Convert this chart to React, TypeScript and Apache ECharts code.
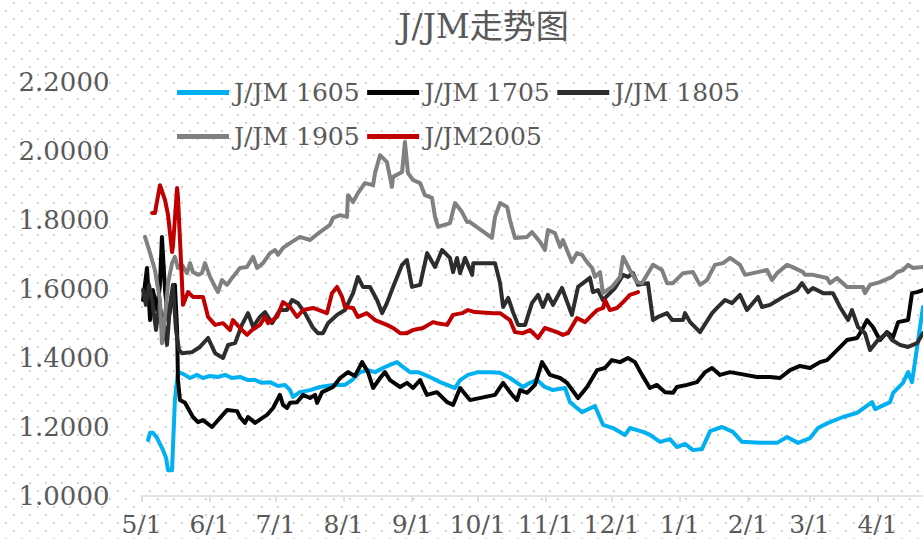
import React, { useEffect, useRef } from "react";
import * as echarts from "echarts";

// x = days since 5/1, y = J/JM ratio
const monthTicks = [0, 31, 61, 92, 123, 153, 184, 214, 245, 276, 304, 335];
const monthLabels = ["5/1", "6/1", "7/1", "8/1", "9/1", "10/1", "11/1", "12/1", "1/1", "2/1", "3/1", "4/1"];
const yTicks = [1.0, 1.2, 1.4, 1.6, 1.8, 2.0, 2.2];
const lastDay = 355.7;

const titleText = "J/JM走势图";
const seriesNames = ["J/JM 1605", "J/JM 1705", "J/JM 1805", "J/JM 1905", "J/JM2005"];
const seriesColors = ["#00b0f0", "#050505", "#2d2d2d", "#808080", "#c00000"];

const days1605 = [3, 3.9, 5.2, 7.1, 9.8, 11.2, 12.1, 13.9, 15.2, 16.6, 18.9, 22.1, 25.3, 28, 31.2, 34.8, 38, 41.2, 44.8, 48.5, 51.7, 54.8, 58.5, 62.1, 65.3, 67.6, 69, 72.1, 76.7, 81.2, 87.2, 92.6, 95.8, 99.5, 103.1, 106.3, 109.9, 113.1, 116.3, 119, 122.2, 125.9, 129, 132.2, 135.9, 139.1, 142.7, 145, 148.6, 153.2, 158.6, 163.2, 167.7, 173.6, 176.8, 180, 183.6, 187.3, 192.8, 195, 198.2, 200.5, 206.4, 210.1, 214.6, 220.1, 222.3, 228.3, 231.4, 236, 240.5, 243.7, 247.4, 251, 255.1, 258.8, 264.2, 269.2, 273.3, 281.5, 289.3, 293.8, 298.8, 304.3, 307.9, 312.5, 319.3, 325.7, 332.5, 333.9, 340.7, 342.1, 346.6, 348.9, 350.7, 353.5, 355.7];
const vals1605 = [1.162, 1.183, 1.183, 1.168, 1.133, 1.11, 1.075, 1.075, 1.278, 1.359, 1.354, 1.342, 1.351, 1.342, 1.348, 1.345, 1.351, 1.342, 1.345, 1.336, 1.336, 1.328, 1.33, 1.319, 1.322, 1.307, 1.287, 1.301, 1.307, 1.316, 1.322, 1.322, 1.336, 1.359, 1.365, 1.359, 1.371, 1.38, 1.388, 1.374, 1.359, 1.359, 1.351, 1.342, 1.33, 1.322, 1.313, 1.336, 1.351, 1.359, 1.359, 1.357, 1.342, 1.316, 1.328, 1.336, 1.316, 1.307, 1.313, 1.272, 1.255, 1.243, 1.261, 1.206, 1.197, 1.177, 1.197, 1.186, 1.177, 1.157, 1.165, 1.142, 1.151, 1.133, 1.136, 1.188, 1.2, 1.186, 1.157, 1.154, 1.154, 1.171, 1.154, 1.168, 1.197, 1.212, 1.229, 1.241, 1.272, 1.252, 1.272, 1.299, 1.328, 1.359, 1.33, 1.452, 1.548];

const days1705 = [0.7, 2.5, 3.9, 5.2, 7.1, 8.4, 9.3, 10.7, 12.1, 13.9, 15.2, 16.2, 16.6, 17.5, 19.8, 23.4, 25.7, 28, 32.1, 35.7, 38.9, 43.5, 44.8, 47.1, 48.5, 51.7, 57.1, 59.9, 63, 64.4, 66.2, 67.6, 70.8, 73.5, 76.7, 79, 79.9, 82.2, 87.2, 90.4, 94, 97.2, 100.4, 103.1, 105.4, 108.6, 110.8, 113.1, 117.7, 120.8, 123.6, 126.8, 129.9, 134.5, 139.1, 141.8, 145, 149.5, 160.9, 164.6, 168.7, 170.9, 172.3, 175.5, 179.1, 182.3, 185.9, 190.5, 193.7, 198.7, 202.8, 207.4, 210.9, 214.1, 217.8, 221.4, 224.6, 227.8, 231.4, 234.6, 238.3, 241.9, 243.7, 248.3, 252.8, 256.5, 259.7, 263.3, 267.9, 272.4, 280.1, 286.1, 290.6, 295.2, 299.7, 304.3, 308.8, 312, 316.6, 321.1, 325.7, 327.9, 330.2, 332.9, 336.1, 339.3, 342.1, 344.4, 348.9, 350.7, 353, 355.7];
const vals1705 = [1.568, 1.661, 1.51, 1.597, 1.539, 1.612, 1.751, 1.597, 1.51, 1.568, 1.612, 1.481, 1.336, 1.278, 1.27, 1.229, 1.214, 1.22, 1.2, 1.226, 1.249, 1.246, 1.229, 1.212, 1.229, 1.212, 1.235, 1.255, 1.293, 1.264, 1.255, 1.27, 1.272, 1.293, 1.284, 1.293, 1.27, 1.301, 1.316, 1.342, 1.359, 1.348, 1.388, 1.359, 1.313, 1.342, 1.359, 1.336, 1.316, 1.328, 1.313, 1.336, 1.293, 1.301, 1.272, 1.264, 1.313, 1.278, 1.293, 1.328, 1.293, 1.278, 1.307, 1.299, 1.322, 1.388, 1.351, 1.342, 1.328, 1.284, 1.316, 1.365, 1.371, 1.394, 1.388, 1.4, 1.388, 1.351, 1.313, 1.322, 1.301, 1.299, 1.316, 1.322, 1.33, 1.359, 1.371, 1.351, 1.359, 1.354, 1.345, 1.345, 1.342, 1.365, 1.377, 1.371, 1.388, 1.394, 1.423, 1.452, 1.458, 1.481, 1.51, 1.49, 1.452, 1.475, 1.461, 1.504, 1.51, 1.588, 1.591, 1.597];

const days1805 = [0.7, 2, 3.4, 4.8, 6.6, 8, 9.8, 11.6, 13, 14.3, 15.7, 17.1, 18.4, 23, 26.6, 30.3, 33.5, 37.1, 39.4, 42.6, 45.7, 48.5, 50.8, 53.9, 56.2, 59.4, 63, 66.2, 68.5, 71.2, 74.4, 78.1, 80.3, 82.6, 84.9, 89, 92.6, 96.3, 98.5, 100.8, 104, 107.2, 109.5, 111.7, 114.5, 118.6, 120.8, 123.1, 126.8, 130, 133.6, 136.8, 140.4, 141.8, 143.6, 145, 147.3, 150.5, 151, 160.9, 163.2, 164.6, 166.9, 169.1, 171.4, 174.6, 177.7, 180.5, 182.7, 185, 187.3, 191.4, 195.9, 198.7, 204.1, 205.5, 207.8, 210, 215.5, 219.2, 221.4, 223.7, 226, 230.5, 232.8, 235.1, 239.2, 241.5, 246.5, 247.4, 249.7, 254.2, 259.7, 262.4, 265.6, 268.8, 272.4, 275.6, 280.6, 282.4, 286.1, 292, 298.3, 300.6, 303.4, 305.6, 310.2, 314.7, 317.9, 321.6, 323.4, 326.1, 329.3, 331.6, 335.2, 339.3, 341.6, 345.2, 348.9, 353, 355.7];
const vals1805 = [1.597, 1.554, 1.612, 1.568, 1.481, 1.554, 1.516, 1.438, 1.554, 1.612, 1.481, 1.423, 1.414, 1.417, 1.432, 1.458, 1.414, 1.4, 1.438, 1.443, 1.496, 1.53, 1.49, 1.519, 1.533, 1.501, 1.539, 1.539, 1.568, 1.559, 1.53, 1.487, 1.472, 1.472, 1.501, 1.525, 1.539, 1.588, 1.635, 1.606, 1.606, 1.568, 1.53, 1.559, 1.606, 1.67, 1.684, 1.606, 1.612, 1.704, 1.664, 1.713, 1.69, 1.649, 1.69, 1.646, 1.69, 1.641, 1.675, 1.675, 1.617, 1.548, 1.574, 1.533, 1.496, 1.496, 1.559, 1.583, 1.548, 1.583, 1.554, 1.603, 1.525, 1.606, 1.632, 1.591, 1.597, 1.568, 1.603, 1.641, 1.635, 1.646, 1.612, 1.617, 1.51, 1.519, 1.53, 1.51, 1.51, 1.53, 1.504, 1.475, 1.53, 1.548, 1.568, 1.559, 1.583, 1.539, 1.577, 1.548, 1.554, 1.577, 1.597, 1.617, 1.591, 1.603, 1.588, 1.588, 1.548, 1.51, 1.539, 1.49, 1.472, 1.423, 1.452, 1.472, 1.452, 1.438, 1.432, 1.443, 1.472];

const days1905 = [1.6, 3.9, 6.1, 8.4, 9.3, 10.7, 12.1, 13.9, 15.2, 16.6, 18.4, 20.7, 22.1, 23.4, 25.7, 27.5, 28.9, 31.2, 33.5, 34.8, 36.6, 38.9, 41.6, 44.8, 48, 50.8, 52.6, 55.3, 58.5, 60.8, 62.1, 64.4, 67.6, 72.1, 76.7, 81.2, 85.8, 87.2, 90.4, 93.5, 94, 96.3, 98.5, 101.7, 105.4, 106.3, 108.6, 111.7, 114, 114.5, 118.6, 119.9, 121.3, 123.6, 126.8, 129, 132.2, 133.6, 135, 140.4, 142.7, 145.9, 148.2, 149.5, 159.5, 160.9, 163.2, 166.4, 167.7, 170, 175.5, 177.7, 181.4, 183.6, 185, 188.2, 190.5, 191.8, 195.9, 198.2, 200.5, 202.8, 205.1, 206.4, 208.7, 210, 214.1, 217.8, 219.2, 222.3, 225.5, 227.8, 232.8, 236.9, 239.2, 241.9, 246.5, 251, 254.2, 257.4, 261, 264.7, 267.9, 272.4, 274.7, 284.7, 287, 289.3, 293.8, 296.1, 301.1, 302, 305.6, 312, 313.4, 316.6, 321.1, 328.4, 329.3, 331.6, 336.1, 341.6, 343.9, 346.6, 348.9, 351.2, 355.7];
const vals1905 = [1.751, 1.704, 1.655, 1.568, 1.443, 1.519, 1.617, 1.675, 1.693, 1.661, 1.67, 1.646, 1.675, 1.649, 1.641, 1.646, 1.675, 1.635, 1.606, 1.591, 1.626, 1.612, 1.635, 1.661, 1.664, 1.693, 1.661, 1.675, 1.704, 1.713, 1.699, 1.719, 1.733, 1.751, 1.742, 1.765, 1.786, 1.806, 1.814, 1.809, 1.872, 1.852, 1.878, 1.907, 1.901, 1.936, 1.988, 1.968, 1.896, 1.925, 1.939, 2.026, 1.936, 1.916, 1.907, 1.872, 1.864, 1.809, 1.78, 1.791, 1.849, 1.823, 1.794, 1.794, 1.748, 1.809, 1.849, 1.838, 1.8, 1.748, 1.751, 1.765, 1.736, 1.713, 1.771, 1.762, 1.722, 1.742, 1.678, 1.704, 1.699, 1.678, 1.661, 1.635, 1.649, 1.588, 1.606, 1.635, 1.693, 1.655, 1.62, 1.617, 1.67, 1.655, 1.617, 1.617, 1.646, 1.649, 1.612, 1.626, 1.67, 1.675, 1.69, 1.67, 1.641, 1.655, 1.626, 1.646, 1.67, 1.664, 1.649, 1.641, 1.641, 1.632, 1.617, 1.632, 1.606, 1.606, 1.588, 1.612, 1.62, 1.635, 1.649, 1.655, 1.67, 1.661, 1.664];

const days2005 = [4.8, 6.1, 8.4, 10.7, 12.1, 13.9, 14.3, 16.2, 16.6, 18.9, 21.2, 23.4, 28, 30.3, 33.5, 37.1, 40.3, 41.6, 44.8, 48, 50.3, 53.9, 56.2, 57.6, 61.7, 64.4, 67.6, 70.8, 73.5, 78.1, 84.4, 86.7, 89, 91.3, 92.6, 96.3, 98.5, 102.6, 106.3, 111.7, 114.5, 117.7, 120.8, 123.6, 128.1, 132.7, 134.5, 139.1, 141.8, 145.9, 148.6, 151.8, 160, 163.2, 167.7, 170, 173.6, 176.8, 180.5, 183.6, 189.1, 191.8, 194.1, 198.2, 201.9, 205.1, 207.4, 210.1, 211, 213.2, 216.4, 219.2, 222.3, 226];
const vals2005 = [1.82, 1.82, 1.901, 1.858, 1.814, 1.707, 1.722, 1.893, 1.867, 1.554, 1.591, 1.577, 1.577, 1.519, 1.496, 1.501, 1.481, 1.51, 1.487, 1.467, 1.481, 1.496, 1.519, 1.501, 1.519, 1.562, 1.548, 1.519, 1.539, 1.545, 1.53, 1.588, 1.606, 1.577, 1.548, 1.545, 1.519, 1.53, 1.51, 1.496, 1.487, 1.472, 1.472, 1.481, 1.487, 1.504, 1.501, 1.496, 1.525, 1.53, 1.539, 1.533, 1.53, 1.53, 1.51, 1.475, 1.472, 1.481, 1.458, 1.487, 1.475, 1.467, 1.472, 1.516, 1.504, 1.525, 1.539, 1.545, 1.568, 1.539, 1.545, 1.562, 1.583, 1.591];

const allDays = [days1605, days1705, days1805, days1905, days2005];
const allVals = [vals1605, vals1705, vals1805, vals1905, vals2005];

const FONT = "'DejaVu Serif', serif";
const TXT = "#595959";

const dotsBg =
  "url(\"data:image/svg+xml;utf8,<svg xmlns='http://www.w3.org/2000/svg' width='16' height='16'><rect x='5' y='10' width='2' height='2' fill='%23d3d3d3'/><rect x='13' y='2' width='2' height='2' fill='%23d3d3d3'/></svg>\")";

export default function App() {
  const ref = useRef<HTMLDivElement>(null);
  useEffect(() => {
    if (!ref.current) return;
    const chart = echarts.init(ref.current, null, { renderer: "svg" });
    const legendCommon = {
      left: 177,
      padding: 0,
      icon: "rect",
      itemWidth: 52,
      itemHeight: 5,
      itemGap: 7.5,
      formatter: (name: string) => `{t|${name}}`,
      textStyle: {
        fontFamily: FONT,
        fontSize: 25,
        color: TXT,
        rich: {
          t: { width: 146, fontFamily: FONT, fontSize: 25, color: TXT },
        },
      },
    };
    chart.setOption({
      animation: false,
      graphic: [
        {
          type: "text",
          x: 483.5,
          y: 26,
          style: {
            text: titleText,
            align: "center",
            verticalAlign: "middle",
            fontFamily: "'DejaVu Serif', 'Noto Sans CJK SC', serif",
            fontSize: 33,
            fill: TXT,
          },
        },
      ],
      legend: [
        { ...legendCommon, data: seriesNames.slice(0, 3), top: 80 },
        { ...legendCommon, data: seriesNames.slice(3), top: 124 },
      ],
      grid: {
        left: 141.5,
        right: 0,
        top: 82,
        bottom: 43,
        containLabel: false,
        outerBoundsMode: "none",
      },
      xAxis: {
        type: "value",
        min: 0,
        max: lastDay,
        splitLine: { show: false },
        axisLine: { show: true, lineStyle: { color: "#d9d9d9", width: 1.5 } },
        axisTick: {
          show: true,
          length: 6,
          inside: false,
          customValues: monthTicks,
          lineStyle: { color: "#d9d9d9", width: 1.5 },
        },
        axisLabel: {
          customValues: monthTicks,
          formatter: (v: number) => monthLabels[monthTicks.indexOf(Math.round(v))] ?? "",
          fontFamily: FONT,
          fontSize: 25,
          lineHeight: 25,
          color: TXT,
          margin: 16,
          hideOverlap: false,
        },
      },
      yAxis: {
        type: "value",
        min: yTicks[0],
        max: yTicks[yTicks.length - 1],
        interval: 0.2,
        splitLine: { show: false },
        axisLine: { show: false },
        axisTick: { show: false },
        axisLabel: {
          formatter: (v: number) => v.toFixed(4),
          fontFamily: FONT,
          fontSize: 26,
          color: TXT,
          margin: 32,
        },
      },
      series: seriesNames.map((name, i) => ({
        name,
        type: "line",
        showSymbol: false,
        symbol: "none",
        color: seriesColors[i],
        lineStyle: { width: 4, color: seriesColors[i], join: "round", cap: "round" },
        data: allDays[i].map((d, k) => [d, allVals[i][k]]),
        z: 2 + i,
      })),
    });
    return () => chart.dispose();
  }, []);
  return (
    <div
      ref={ref}
      style={{
        position: "absolute",
        left: 0,
        top: 0,
        width: 923,
        height: 539,
        backgroundColor: "#ffffff",
        backgroundImage: dotsBg,
        backgroundRepeat: "repeat",
      }}
    />
  );
}
